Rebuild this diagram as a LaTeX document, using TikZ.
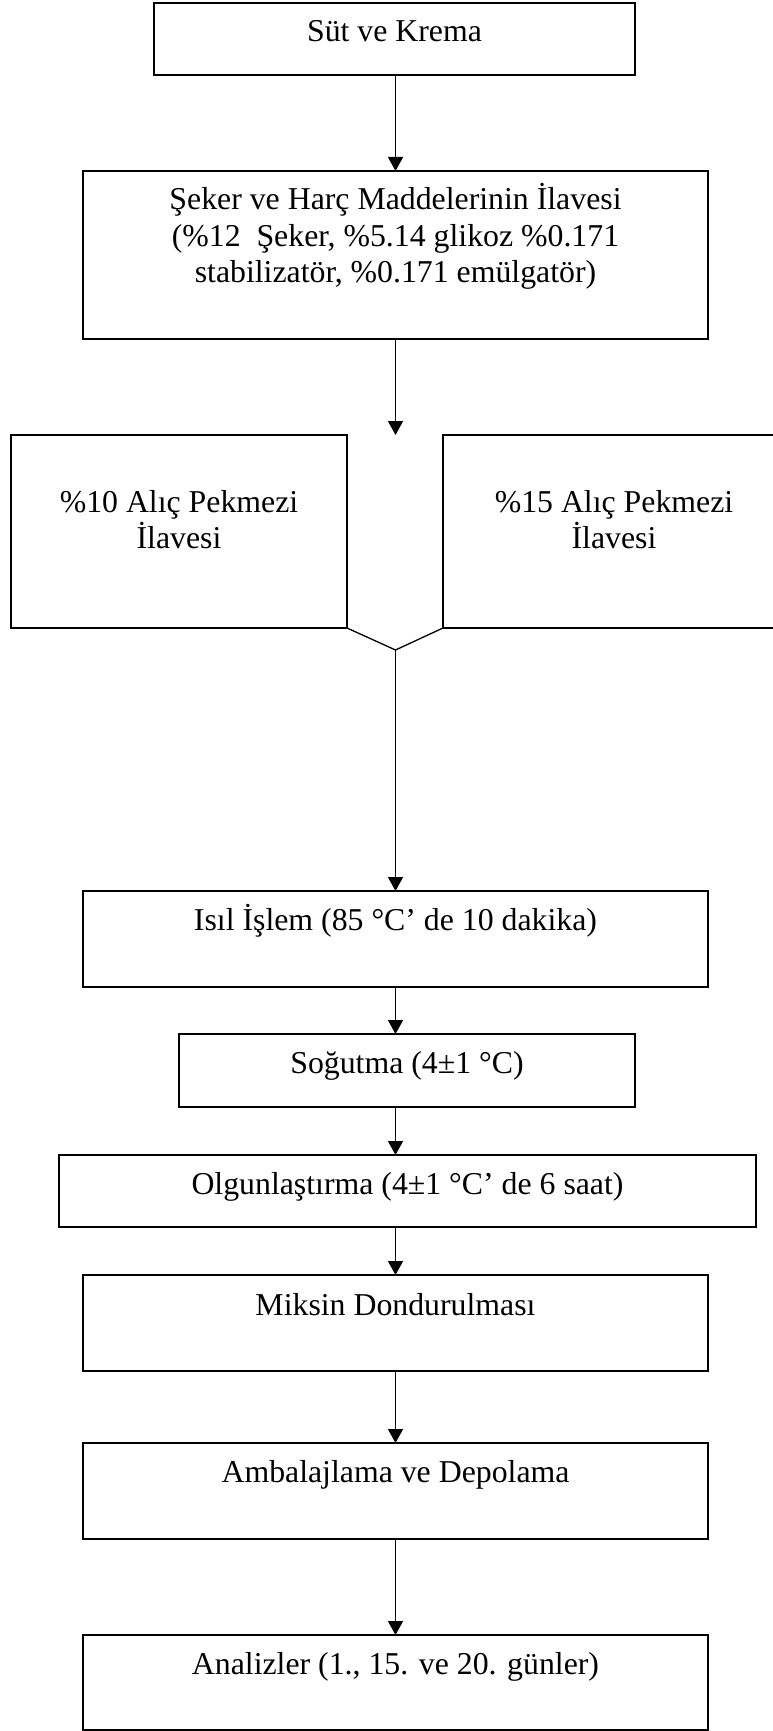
\documentclass[tikz,border=0pt]{standalone}
\usepackage{fontspec}
\setmainfont{Liberation Serif}
\usetikzlibrary{arrows.meta}
\begin{document}
\begin{tikzpicture}[x=1pt,y=-1pt,
  box/.style={draw, line width=1.8pt, inner sep=0pt, outer sep=0pt},
  txt/.style={anchor=base, inner sep=0pt, font=\fontsize{31.8}{36.5}\selectfont},
  conn/.style={line width=1.3pt},
  arr/.style={line width=1.3pt, -{Triangle[length=14pt,width=15pt]}, shorten >=0pt}]
\useasboundingbox (0,0) rectangle (773,1731);
\clip (0,0) rectangle (773,1731);
\fill[white] (0,0) rectangle (773,1731);

% boxes
\node[box, minimum width=481pt, minimum height=72pt]  (b1) at (394.5,39) {};
\node[box, minimum width=625pt, minimum height=168pt] (b2) at (395.5,255) {};
\node[box, minimum width=336pt, minimum height=193pt] (bl) at (179,531.5) {};
\node[box, minimum width=342pt, minimum height=193pt] (br) at (614,531.5) {};
\node[box, minimum width=625pt, minimum height=96pt]  (b4) at (395.5,939) {};
\node[box, minimum width=456pt, minimum height=73pt]  (b5) at (407,1070.5) {};
\node[box, minimum width=697pt, minimum height=72pt]  (b6) at (407.5,1191) {};
\node[box, minimum width=625pt, minimum height=96pt]  (b7) at (395.5,1323) {};
\node[box, minimum width=625pt, minimum height=96pt]  (b8) at (395.5,1491) {};
\node[box, minimum width=625pt, minimum height=95pt]  (b9) at (395.5,1682.5) {};

% texts
\node[txt] (t1) at ([yshift=-39pt]b1.north) {Süt ve Krema};
\node[txt] (t2) at ([yshift=-39pt]b2.north) {\begin{tabular}[t]{@{}c@{}}Şeker ve Harç Maddelerinin İlavesi\\(\%12\ \ Şeker, \%5.14 glikoz \%0.171\\stabilizatör, \%0.171 emülgatör)\end{tabular}};
\node[txt, font=\fontsize{31.8}{35}\selectfont] (tl) at ([yshift=-77pt]bl.north) {\begin{tabular}[t]{@{}c@{}}\%10 Alıç Pekmezi\\İlavesi\end{tabular}};
\node[txt, font=\fontsize{31.8}{35}\selectfont] (tr) at ([yshift=-77pt]br.north) {\begin{tabular}[t]{@{}c@{}}\%15 Alıç Pekmezi\\İlavesi\end{tabular}};
\node[txt] (t4) at ([yshift=-39pt]b4.north) {Isıl İşlem (85 °C’ de 10 dakika)};
\node[txt] (t5) at ([yshift=-39pt]b5.north) {Soğutma (4±1 °C)};
\node[txt] (t6) at ([yshift=-39pt]b6.north) {Olgunlaştırma (4±1 °C’ de 6 saat)};
\node[txt] (t7) at ([yshift=-40pt]b7.north) {Miksin Dondurulması};
\node[txt] (t8) at ([yshift=-39pt]b8.north) {Ambalajlama ve Depolama};
\node[txt] (t9) at ([yshift=-39pt]b9.north) {Analizler (1., 15. ve 20. günler)};

% connectors
\coordinate (ax) at (395.5,0);
\coordinate (sp) at (395.5,435);
\coordinate (j) at (395.5,650);
\draw[arr] (b1.south -| ax) -- (b2.north -| ax);
\draw[arr] (b2.south -| ax) -- (sp);
\draw[conn] (bl.south east) -- (j) -- (br.south west);
\draw[arr] (j) -- (b4.north -| ax);
\draw[arr] (b4.south -| ax) -- (b5.north -| ax);
\draw[arr] (b5.south -| ax) -- (b6.north -| ax);
\draw[arr] (b6.south -| ax) -- (b7.north -| ax);
\draw[arr] (b7.south -| ax) -- (b8.north -| ax);
\draw[arr] (b8.south -| ax) -- (b9.north -| ax);
\end{tikzpicture}
\end{document}
